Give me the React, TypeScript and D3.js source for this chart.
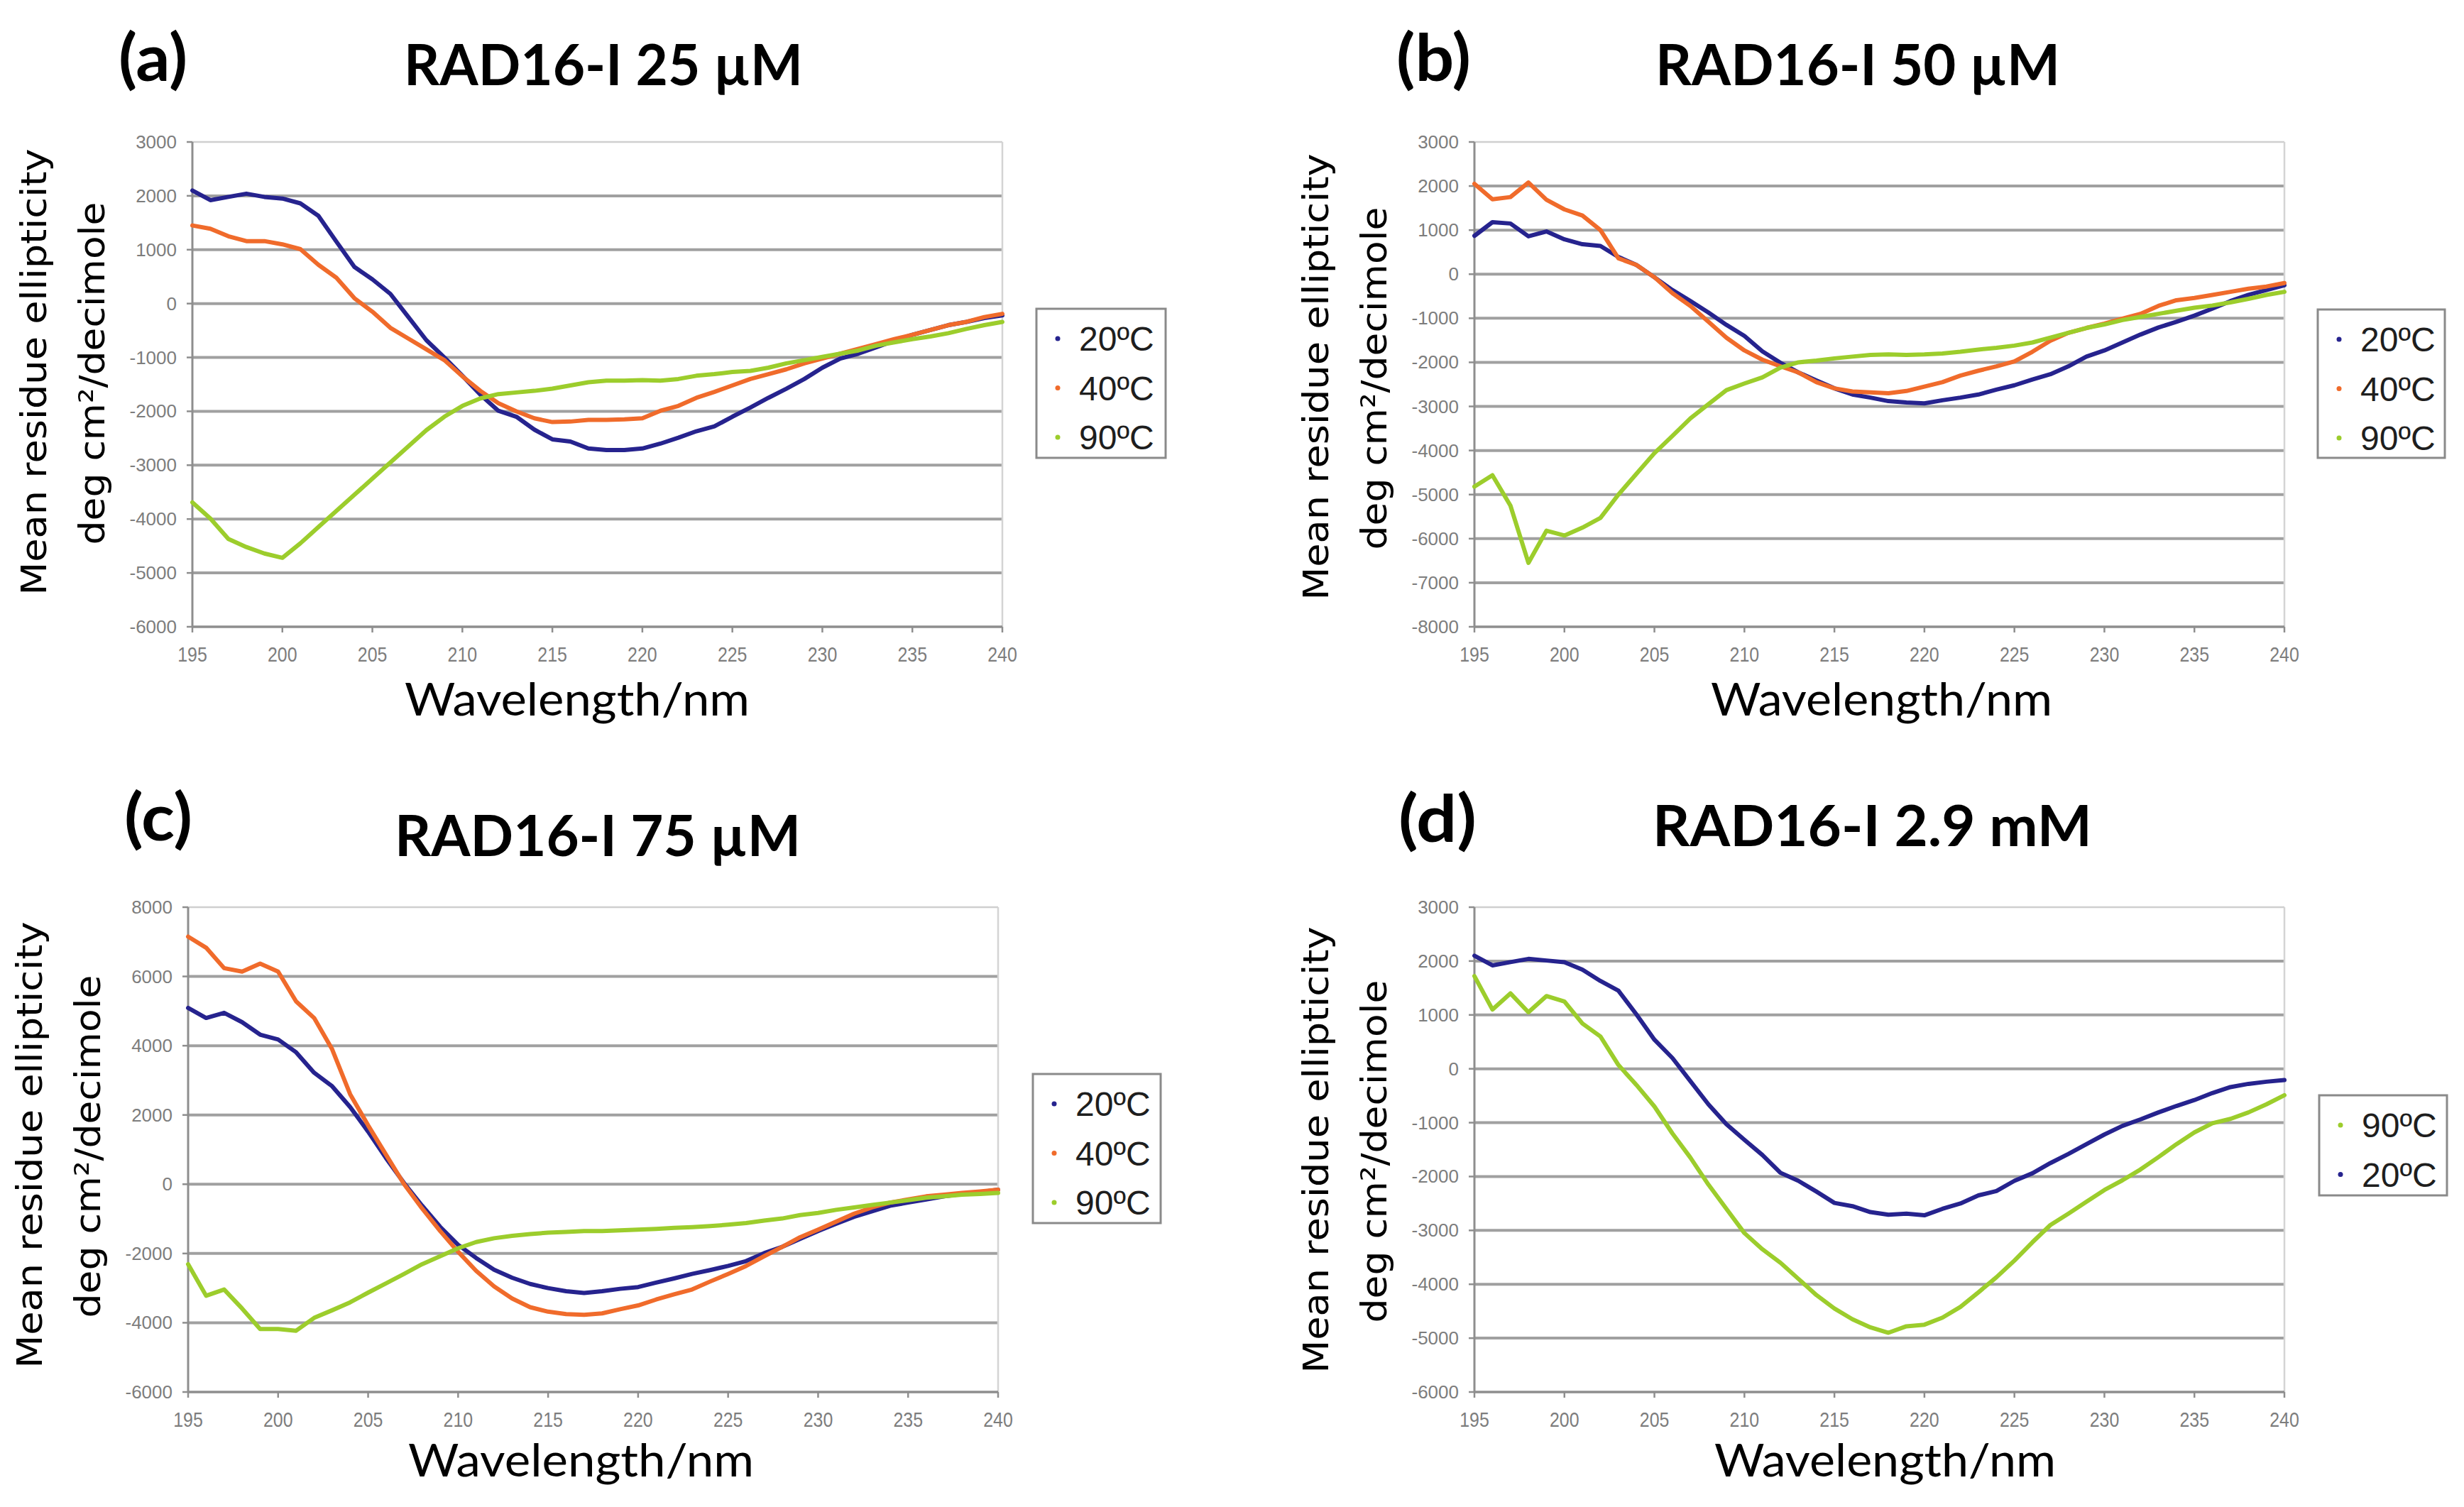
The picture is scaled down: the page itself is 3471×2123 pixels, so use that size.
import { useEffect } from "react";
import * as d3 from "d3";

// wavelength grid (nm) shared by every series
const WAVELENGTH = [
  195, 196, 197, 198, 199, 200, 201, 202, 203, 204, 205, 206, 207, 208, 209, 210,
  211, 212, 213, 214, 215, 216, 217, 218, 219, 220, 221, 222, 223, 224, 225, 226,
  227, 228, 229, 230, 231, 232, 233, 234, 235, 236, 237, 238, 239, 240,
];
const X_TICKS = [195, 200, 205, 210, 215, 220, 225, 230, 235, 240];

// (a) RAD16-I 25 µM
const A_20C = [2100, 1920, 1980, 2040, 1980, 1950, 1860, 1630, 1150, 680, 450, 180, -250, -680, -1000, -1340, -1690, -1990, -2100, -2340, -2520, -2560, -2690, -2720, -2720, -2690, -2600, -2490, -2370, -2280, -2100, -1930, -1750, -1580, -1400, -1190, -1020, -930, -810, -690, -580, -490, -400, -340, -270, -220];
const A_40C = [1450, 1390, 1250, 1160, 1160, 1100, 1010, 720, 480, 100, -150, -450, -650, -850, -1050, -1350, -1620, -1850, -2000, -2130, -2200, -2190, -2160, -2160, -2150, -2130, -1990, -1900, -1750, -1640, -1520, -1400, -1310, -1220, -1110, -1020, -930, -840, -750, -660, -580, -490, -400, -340, -250, -190];
const A_90C = [-3690, -3990, -4370, -4520, -4640, -4720, -4450, -4150, -3850, -3550, -3250, -2950, -2650, -2350, -2100, -1900, -1760, -1680, -1650, -1620, -1580, -1520, -1460, -1430, -1430, -1420, -1430, -1400, -1340, -1310, -1270, -1250, -1190, -1110, -1050, -990, -930, -870, -780, -720, -660, -610, -550, -470, -400, -340];

// (b) RAD16-I 50 µM
const B_20C = [870, 1180, 1150, 860, 970, 790, 680, 640, 390, 210, -70, -360, -610, -870, -1150, -1400, -1750, -2010, -2230, -2410, -2590, -2730, -2800, -2880, -2910, -2930, -2860, -2800, -2730, -2620, -2520, -2390, -2270, -2090, -1870, -1730, -1550, -1370, -1210, -1080, -940, -780, -610, -470, -360, -250];
const B_40C = [2050, 1700, 1750, 2080, 1690, 1470, 1330, 1000, 360, 210, -70, -430, -720, -1080, -1440, -1730, -1940, -2090, -2230, -2450, -2590, -2660, -2680, -2700, -2650, -2550, -2450, -2300, -2190, -2090, -1980, -1760, -1510, -1330, -1220, -1120, -1010, -900, -720, -590, -540, -470, -400, -330, -280, -200];
const B_90C = [-4820, -4560, -5250, -6550, -5820, -5930, -5750, -5530, -5000, -4530, -4060, -3670, -3270, -2950, -2630, -2480, -2340, -2120, -2000, -1960, -1910, -1870, -1830, -1820, -1830, -1820, -1800, -1760, -1710, -1670, -1620, -1550, -1440, -1330, -1220, -1140, -1040, -970, -900, -830, -760, -710, -640, -560, -470, -400];

// (c) RAD16-I 75 µM
const C_20C = [5090, 4800, 4950, 4680, 4320, 4180, 3810, 3220, 2830, 2230, 1520, 750, 30, -620, -1230, -1750, -2130, -2470, -2700, -2880, -3000, -3090, -3140, -3090, -3020, -2970, -2840, -2720, -2590, -2480, -2360, -2220, -1990, -1810, -1580, -1350, -1140, -940, -780, -620, -530, -440, -350, -280, -230, -160];
const C_40C = [7150, 6830, 6240, 6140, 6370, 6140, 5280, 4800, 3900, 2600, 1700, 850, 0, -700, -1350, -1950, -2500, -2950, -3300, -3550, -3680, -3750, -3770, -3730, -3610, -3500, -3330, -3180, -3040, -2810, -2590, -2360, -2080, -1810, -1530, -1310, -1080, -850, -670, -530, -440, -350, -300, -250, -210, -160];
const C_90C = [-2310, -3220, -3040, -3590, -4180, -4180, -4230, -3860, -3640, -3410, -3130, -2860, -2590, -2310, -2080, -1850, -1670, -1560, -1490, -1440, -1400, -1380, -1350, -1350, -1330, -1310, -1290, -1260, -1240, -1210, -1170, -1120, -1050, -990, -890, -830, -740, -670, -600, -530, -460, -390, -350, -300, -280, -250];

// (d) RAD16-I 2.9 mM
const D_90C = [1720, 1100, 1400, 1050, 1350, 1250, 840, 600, 70, -300, -700, -1200, -1650, -2150, -2600, -3050, -3350, -3600, -3900, -4200, -4450, -4650, -4800, -4900, -4780, -4750, -4620, -4420, -4150, -3870, -3560, -3220, -2900, -2690, -2470, -2250, -2070, -1870, -1640, -1400, -1180, -1010, -930, -810, -660, -490];
const D_20C = [2100, 1920, 1980, 2040, 2010, 1980, 1840, 1630, 1450, 1010, 540, 200, -230, -660, -1030, -1320, -1600, -1930, -2080, -2280, -2490, -2550, -2660, -2710, -2690, -2720, -2600, -2500, -2350, -2270, -2080, -1940, -1750, -1580, -1400, -1220, -1060, -940, -810, -690, -580, -450, -340, -280, -240, -210];

const BLUE = "#26238e";
const ORANGE = "#f06b2b";
const GREEN = "#9ccd2c";

type Series = { label: string; values: number[]; color: string };
type Panel = {
  tag: string; tagX: [number, number]; tagBase: number;
  title: string; titleX: [number, number]; titleBase: number;
  left: number; right: number; top: number; bottom: number;
  yDomain: [number, number]; yStep: number;
  series: Series[]; legendOrder: number[];
  legend: { x: number; y: number; w: number; h: number };
  xTitleX: [number, number]; xTitleBase: number; yLabelMid: number;
};

const PANELS: Panel[] = [
  {
    tag: "(a)", tagX: [167, 264], tagBase: 114,
    title: "RAD16-I 25 µM", titleX: [569, 1131], titleBase: 120,
    left: 271, right: 1412, top: 200, bottom: 883,
    yDomain: [-6000, 3000], yStep: 1000,
    series: [
      { label: "20ºC", values: A_20C, color: BLUE },
      { label: "40ºC", values: A_40C, color: ORANGE },
      { label: "90ºC", values: A_90C, color: GREEN },
    ],
    legendOrder: [0, 1, 2],
    legend: { x: 1460, y: 435, w: 182, h: 210 },
    xTitleX: [570, 1056], xTitleBase: 1008, yLabelMid: 524,
  },
  {
    tag: "(b)", tagX: [1967, 2072], tagBase: 114,
    title: "RAD16-I 50 µM", titleX: [2332, 2902], titleBase: 120,
    left: 2077, right: 3218, top: 200, bottom: 883,
    yDomain: [-8000, 3000], yStep: 1000,
    series: [
      { label: "20ºC", values: B_20C, color: BLUE },
      { label: "40ºC", values: B_40C, color: ORANGE },
      { label: "90ºC", values: B_90C, color: GREEN },
    ],
    legendOrder: [0, 1, 2],
    legend: { x: 3265, y: 436, w: 179, h: 209 },
    xTitleX: [2410, 2891], xTitleBase: 1008, yLabelMid: 531,
  },
  {
    tag: "(c)", tagX: [175, 271], tagBase: 1184,
    title: "RAD16-I 75 µM", titleX: [556, 1128], titleBase: 1206,
    left: 265, right: 1406, top: 1278, bottom: 1961,
    yDomain: [-6000, 8000], yStep: 2000,
    series: [
      { label: "20ºC", values: C_20C, color: BLUE },
      { label: "40ºC", values: C_40C, color: ORANGE },
      { label: "90ºC", values: C_90C, color: GREEN },
    ],
    legendOrder: [0, 1, 2],
    legend: { x: 1455, y: 1513, w: 180, h: 210 },
    xTitleX: [575, 1062], xTitleBase: 2080, yLabelMid: 1613,
  },
  {
    tag: "(d)", tagX: [1970, 2080], tagBase: 1186,
    title: "RAD16-I 2.9 mM", titleX: [2328, 2947], titleBase: 1192,
    left: 2077, right: 3218, top: 1278, bottom: 1961,
    yDomain: [-6000, 3000], yStep: 1000,
    series: [
      { label: "90ºC", values: D_90C, color: GREEN },
      { label: "20ºC", values: D_20C, color: BLUE },
    ],
    legendOrder: [0, 1],
    legend: { x: 3267, y: 1543, w: 180, h: 141 },
    xTitleX: [2415, 2896], xTitleBase: 2080, yLabelMid: 1620,
  },
];

const TICK_FONT = "'Liberation Sans', Arial, sans-serif";
const TITLE_FONT = "Lato, 'Open Sans', sans-serif";

function CdPanel({ p }: { p: Panel }) {
  const x = d3.scaleLinear().domain([195, 240]).range([p.left, p.right]);
  const y = d3.scaleLinear().domain(p.yDomain).range([p.bottom, p.top]);
  const yTicks = d3.range(p.yDomain[0], p.yDomain[1] + 1, p.yStep);
  const line = d3
    .line<number>()
    .x((_, i) => x(WAVELENGTH[i]))
    .y((v) => y(v));

  return (
    <g>
      {/* panel tag and title */}
      <text x={p.tagX[0]} y={p.tagBase} fontFamily={TITLE_FONT} fontWeight={700} fontSize={92}
        textLength={p.tagX[1] - p.tagX[0]} lengthAdjust="spacingAndGlyphs">{p.tag}</text>
      <text x={p.titleX[0]} y={p.titleBase} fontFamily={TITLE_FONT} fontWeight={700} fontSize={80}
        textLength={p.titleX[1] - p.titleX[0]} lengthAdjust="spacingAndGlyphs">{p.title}</text>

      {/* grid */}
      {yTicks.slice(1, -1).map((t) => (
        <line key={t} x1={p.left} x2={p.right} y1={y(t)} y2={y(t)} stroke="#a0a0a0" strokeWidth={4} />
      ))}
      <line x1={p.left} x2={p.right} y1={p.top} y2={p.top} stroke="#cfcfcf" strokeWidth={2.5} />
      <line x1={p.right} x2={p.right} y1={p.top} y2={p.bottom} stroke="#d4d4d4" strokeWidth={2.5} />

      {/* axes */}
      <line x1={p.left} x2={p.left} y1={p.top} y2={p.bottom} stroke="#8e8e8e" strokeWidth={3} />
      <line x1={p.left} x2={p.right} y1={p.bottom} y2={p.bottom} stroke="#8e8e8e" strokeWidth={3.5} />
      {yTicks.map((t) => (
        <g key={t}>
          <line x1={p.left - 8} x2={p.left} y1={y(t)} y2={y(t)} stroke="#8e8e8e" strokeWidth={2.5} />
          <text x={p.left - 22} y={y(t) + 9} textAnchor="end" fontFamily={TICK_FONT} fontSize={26} fill="#7d7d7d">
            {t}
          </text>
        </g>
      ))}
      {X_TICKS.map((t) => (
        <g key={t}>
          <line x1={x(t)} x2={x(t)} y1={p.bottom} y2={p.bottom + 8} stroke="#8e8e8e" strokeWidth={2.5} />
          <text transform={`translate(${x(t)},${p.bottom + 49}) scale(0.86,1)`} textAnchor="middle"
            fontFamily={TICK_FONT} fontSize={29} fill="#7d7d7d">{t}</text>
        </g>
      ))}

      {/* data */}
      {p.series.map((s) => (
        <path key={s.label} d={line(s.values) ?? ""} fill="none" stroke={s.color} strokeWidth={6}
          strokeLinejoin="round" strokeLinecap="round" />
      ))}

      {/* axis titles */}
      <text x={p.xTitleX[0]} y={p.xTitleBase} fontFamily={TITLE_FONT} fontSize={64}
        textLength={p.xTitleX[1] - p.xTitleX[0]} lengthAdjust="spacingAndGlyphs">Wavelength/nm</text>
      <text transform={`translate(${p.left - 206},${p.yLabelMid}) rotate(-90)`} textAnchor="middle"
        fontFamily="'DejaVu Sans', sans-serif" fontSize={50} textLength={629} lengthAdjust="spacingAndGlyphs">
        Mean residue  ellipticity
      </text>
      <text transform={`translate(${p.left - 124},${p.yLabelMid + 2}) rotate(-90)`} textAnchor="middle"
        fontFamily="'DejaVu Sans', sans-serif" fontSize={50} textLength={483} lengthAdjust="spacingAndGlyphs">
        deg cm²/decimole
      </text>

      {/* legend */}
      <rect x={p.legend.x} y={p.legend.y} width={p.legend.w} height={p.legend.h} fill="#fff"
        stroke="#8a8a8a" strokeWidth={3} />
      {p.legendOrder.map((si, i) => {
        const s = p.series[si];
        const cy = p.legend.y + 42 + i * 69.5;
        return (
          <g key={s.label}>
            <circle cx={p.legend.x + 30} cy={cy} r={3.5} fill={s.color} />
            <text x={p.legend.x + 60} y={cy + 17} fontFamily={TICK_FONT} fontSize={48} fill="#1e1e1e">
              {s.label}
            </text>
          </g>
        );
      })}
    </g>
  );
}

export default function App() {
  useEffect(() => {
    document.body.style.margin = "0";
  }, []);
  return (
    <svg width={3471} height={2123} viewBox="0 0 3471 2123" style={{ display: "block", background: "#fff" }}>
      <rect width={3471} height={2123} fill="#fff" />
      {PANELS.map((p) => (
        <CdPanel key={p.tag} p={p} />
      ))}
    </svg>
  );
}
